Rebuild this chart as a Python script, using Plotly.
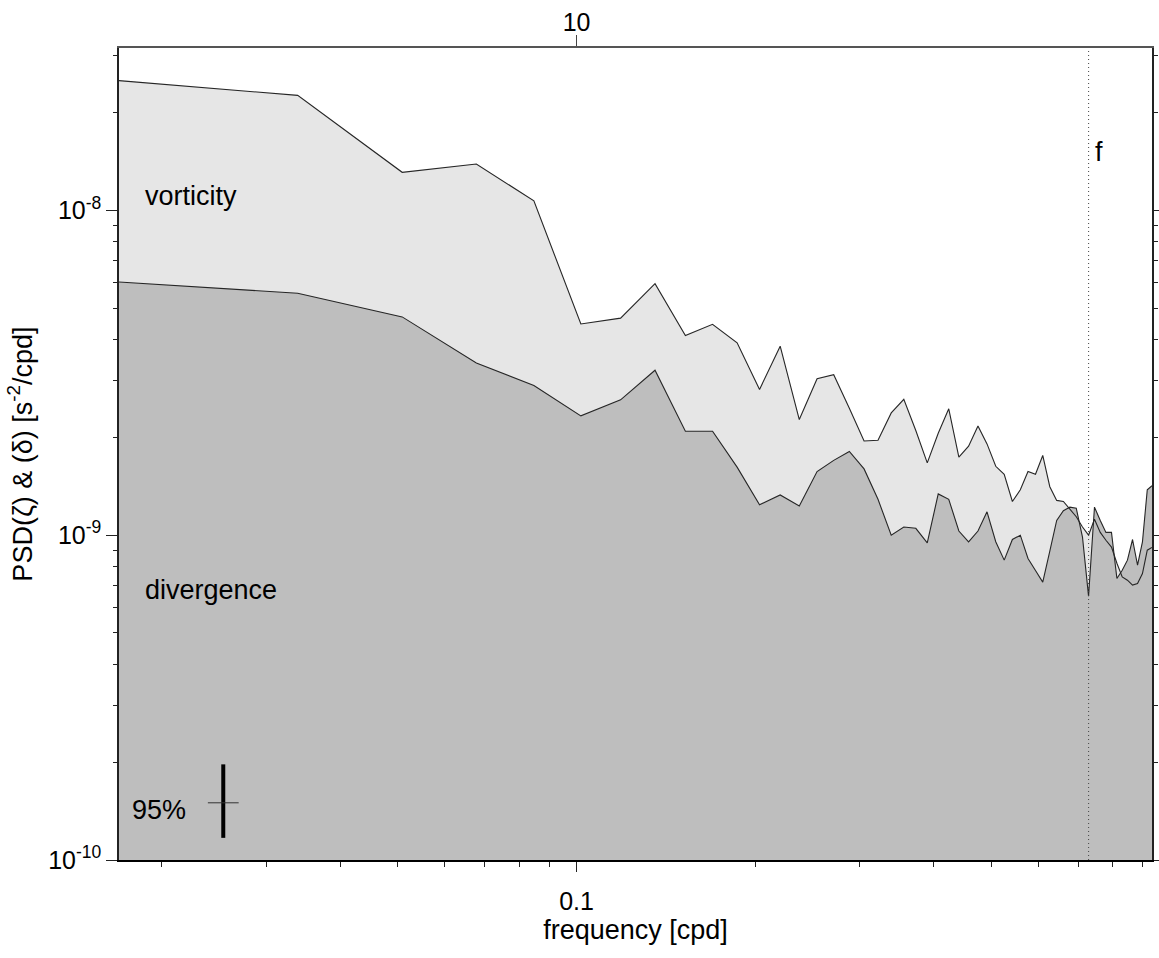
import math
import plotly.graph_objects as go

# ---------------- data ----------------
# frequency grid [cpd]
freq = [0.01695, 0.03390, 0.05085, 0.06780, 0.08475, 0.10169, 0.11864, 0.13559,
        0.15254, 0.16949, 0.18644, 0.20339, 0.22034, 0.23729, 0.25424, 0.27119,
        0.28814, 0.30508, 0.32203, 0.33898, 0.35593, 0.37288, 0.38983, 0.40678,
        0.42373, 0.44068, 0.45763, 0.47458, 0.49153, 0.50847, 0.52542, 0.54237,
        0.55932, 0.57627, 0.59322, 0.61017, 0.62712, 0.64407, 0.66102, 0.67797,
        0.69492, 0.71186, 0.72881, 0.74576, 0.76271, 0.77966, 0.79661, 0.81356,
        0.83051, 0.84746, 0.86441, 0.88136, 0.89831, 0.91525, 0.93220]

# PSD of vorticity [s^-2/cpd]
vorticity = [2.51e-8, 2.26e-8, 1.31e-8, 1.39e-8, 1.07e-8, 4.47e-9, 4.66e-9, 5.95e-9,
             4.12e-9, 4.46e-9, 3.91e-9, 2.81e-9, 3.82e-9, 2.27e-9, 3.03e-9, 3.12e-9,
             2.46e-9, 1.95e-9, 1.96e-9, 2.38e-9, 2.62e-9, 2.10e-9, 1.67e-9, 2.06e-9,
             2.45e-9, 1.74e-9, 1.88e-9, 2.17e-9, 1.91e-9, 1.63e-9, 1.54e-9, 1.27e-9,
             1.38e-9, 1.57e-9, 1.54e-9, 1.76e-9, 1.41e-9, 1.28e-9, 1.27e-9, 1.20e-9,
             1.14e-9, 1.06e-9, 1.00e-9, 1.12e-9, 1.02e-9, 9.65e-10, 9.19e-10, 8.20e-10,
             7.44e-10, 7.27e-10, 7.02e-10, 7.10e-10, 7.62e-10, 8.99e-10, 9.17e-10]

# PSD of divergence [s^-2/cpd]
divergence = [6.02e-9, 5.56e-9, 4.70e-9, 3.39e-9, 2.89e-9, 2.33e-9, 2.61e-9, 3.22e-9,
              2.09e-9, 2.09e-9, 1.62e-9, 1.24e-9, 1.33e-9, 1.23e-9, 1.57e-9, 1.70e-9,
              1.81e-9, 1.60e-9, 1.29e-9, 1.00e-9, 1.06e-9, 1.05e-9, 9.47e-10, 1.34e-9,
              1.29e-9, 1.03e-9, 9.54e-10, 1.03e-9, 1.18e-9, 9.55e-10, 8.38e-10, 9.70e-10,
              1.00e-9, 8.48e-10, 7.79e-10, 7.17e-10, 8.93e-10, 1.11e-9, 1.19e-9, 1.22e-9,
              1.21e-9, 9.86e-10, 6.49e-10, 1.22e-9, 1.11e-9, 1.02e-9, 1.02e-9, 7.36e-10,
              7.80e-10, 8.38e-10, 9.70e-10, 8.09e-10, 9.54e-10, 1.38e-9, 1.42e-9]

inertial_freq = 0.729          # f [cpd]

# 95% confidence bar
ci_freq = [0.0254]
ci_mid = [1.50e-10]
ci_low = [1.17e-10]
ci_high = [1.97e-10]

# tick definitions
x_tickvals = [0.1]
x_ticktext = ["0.1"]
x_minor = [0.02, 0.03, 0.04, 0.05, 0.06, 0.07, 0.08, 0.09,
           0.2, 0.3, 0.4, 0.5, 0.6, 0.7, 0.8, 0.9]
period_tickvals = [0.1]          # frequency position of the period tick
period_ticktext = ["10"]         # period [days]
y_tickvals = [1e-10, 1e-9, 1e-8]
y_ticktext = ["10<sup>-10</sup>", "10<sup>-9</sup>", "10<sup>-8</sup>"]
y_minor = [2e-10, 3e-10, 4e-10, 5e-10, 6e-10, 7e-10, 8e-10, 9e-10,
           2e-9, 3e-9, 4e-9, 5e-9, 6e-9, 7e-9, 8e-9, 9e-9,
           2e-8, 3e-8]

# ---------------- figure ----------------
FONT = "Liberation Sans, Arial, Helvetica, sans-serif"
LIGHT = "#e6e6e6"
DARK = "#bebebe"
LINE = "#262626"

fig = go.Figure()

fig.add_trace(go.Scatter(x=freq, y=vorticity, mode="none", fill="tozeroy",
                         fillcolor=LIGHT, hoverinfo="skip"))
fig.add_trace(go.Scatter(x=freq, y=divergence, mode="none", fill="tozeroy",
                         fillcolor=DARK, hoverinfo="skip"))
# vorticity outline drawn against the (identical-range) top period axis
fig.add_trace(go.Scatter(x=freq, y=vorticity, mode="lines", xaxis="x2", yaxis="y",
                         line=dict(color=LINE, width=1.1), hoverinfo="skip"))
fig.add_trace(go.Scatter(x=freq, y=divergence, mode="lines",
                         line=dict(color=LINE, width=1.1), hoverinfo="skip"))

# 95% confidence interval marker
fig.add_trace(go.Scatter(
    x=ci_freq, y=ci_mid, mode="markers",
    marker=dict(symbol="line-ew", size=22, color="#333",
                line=dict(width=1, color="#333")),
    error_y=dict(type="data", symmetric=False,
                 array=[h - m for h, m in zip(ci_high, ci_mid)],
                 arrayminus=[m - l for m, l in zip(ci_mid, ci_low)],
                 thickness=4, width=0, color="black"),
    hoverinfo="skip"))

xrange = [math.log10(freq[0]), math.log10(freq[-1])]

# inertial frequency line
fig.add_shape(type="line", xref="x", yref="paper",
              x0=inertial_freq, x1=inertial_freq, y0=0, y1=1,
              line=dict(color="#444", width=1, dash="1px,3px"))

ann_font = dict(family=FONT, size=27, color="black")
fig.add_annotation(x=math.log10(0.01863), y=math.log10(1.104e-8), text="vorticity",
                   xref="x", yref="y", showarrow=False, xanchor="left",
                   yanchor="middle", font=ann_font)
fig.add_annotation(x=math.log10(0.01863), y=math.log10(6.78e-10), text="divergence",
                   xref="x", yref="y", showarrow=False, xanchor="left",
                   yanchor="middle", font=ann_font)
fig.add_annotation(x=math.log10(0.01771), y=math.log10(1.426e-10), text="95%",
                   xref="x", yref="y", showarrow=False, xanchor="left",
                   yanchor="middle", font=ann_font)
fig.add_annotation(x=math.log10(0.7405), y=math.log10(1.508e-8), text="f",
                   xref="x", yref="y", showarrow=False, xanchor="left",
                   yanchor="middle", font=ann_font)

fig.update_layout(
    width=1159, height=958,
    margin=dict(l=119, r=7, t=48, b=98, autoexpand=False),
    paper_bgcolor="white", plot_bgcolor="white",
    font=dict(family=FONT, size=25, color="black"),
    showlegend=False,
    hovermode=False,
    xaxis=dict(
        type="log", range=xrange,
        tickvals=x_tickvals, ticktext=x_ticktext,
        ticks="outside", ticklen=10, tickwidth=1, tickcolor="#222",
        ticklabelstandoff=8,
        minor=dict(tickvals=x_minor, ticks="outside", ticklen=5,
                   tickwidth=1, tickcolor="#222", showgrid=False),
        showline=True, linecolor="black", linewidth=2, mirror=False,
        showgrid=False, zeroline=False,
        title=dict(text="frequency [cpd]", font=dict(size=27), standoff=2),
    ),
    xaxis2=dict(
        type="log", range=xrange, overlaying="x", side="top", anchor="y",
        tickvals=period_tickvals, ticktext=period_ticktext,
        ticks="outside", ticklen=11, tickwidth=1, tickcolor="#444",
        ticklabelstandoff=-6, tickfont=dict(size=25),
        showline=True, linecolor="#555", linewidth=1.5,
        showgrid=False, zeroline=False,
    ),
    yaxis=dict(
        type="log", range=[-10, -7.5],
        tickvals=y_tickvals, ticktext=y_ticktext,
        ticks="outside", ticklen=11, tickwidth=1, tickcolor="#222",
        minor=dict(tickvals=y_minor, ticks="outside", ticklen=4,
                   tickwidth=1, tickcolor="#222", showgrid=False),
        showline=True, linecolor="#222", linewidth=1.5, mirror="ticks",
        showgrid=False, zeroline=False,
        title=dict(text="PSD(ζ) &amp; (δ) [s<sup>-2</sup>/cpd]",
                   font=dict(size=27), standoff=8),
    ),
)

fig.write_html("out.html")
